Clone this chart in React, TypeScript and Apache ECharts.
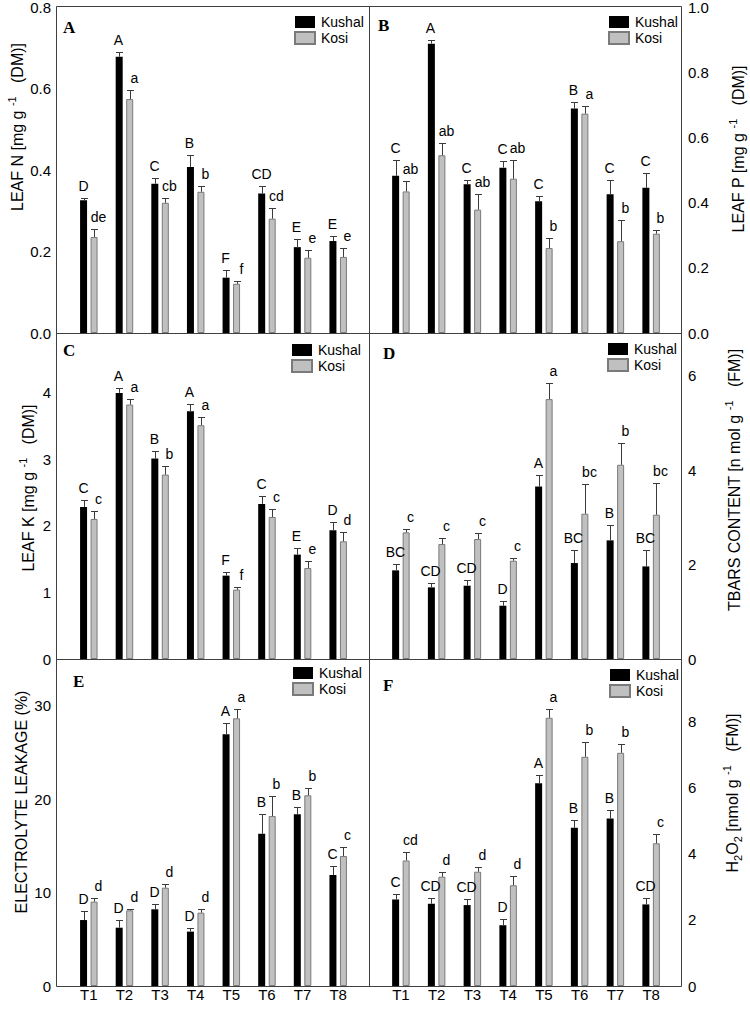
import React, { useEffect, useRef } from "react";
import * as echarts from "echarts";

const categories = ["T1", "T2", "T3", "T4", "T5", "T6", "T7", "T8"];
const cultivars = ["Kushal", "Kosi"];

// A: Leaf N
const leafNKushal = [0.326, 0.679, 0.367, 0.408, 0.136, 0.343, 0.211, 0.226];
const leafNKushalErr = [0.005, 0.012, 0.013, 0.029, 0.02, 0.019, 0.019, 0.013];
const leafNKosi = [0.236, 0.575, 0.32, 0.347, 0.121, 0.281, 0.185, 0.187];
const leafNKosiErr = [0.02, 0.023, 0.013, 0.014, 0.007, 0.027, 0.019, 0.023];
const leafNKushalLetters = ["D", "A", "C", "B", "F", "CD", "E", "E"];
const leafNKosiLetters = ["de", "a", "cb", "b", "f", "cd", "e", "e"];

// B: Leaf P
const leafPKushal = [0.483, 0.889, 0.457, 0.508, 0.405, 0.69, 0.426, 0.446];
const leafPKushalErr = [0.048, 0.011, 0.014, 0.021, 0.015, 0.02, 0.045, 0.046];
const leafPKosi = [0.435, 0.546, 0.379, 0.474, 0.261, 0.674, 0.282, 0.305];
const leafPKosiErr = [0.032, 0.039, 0.049, 0.057, 0.032, 0.023, 0.064, 0.011];
const leafPKushalLetters = ["C", "A", "C", "C", "C", "B", "C", "C"];
const leafPKosiLetters = ["ab", "ab", "ab", "ab", "b", "a", "b", "b"];

// C: Leaf K
const leafKKushal = [2.286, 4.0, 3.013, 3.724, 1.253, 2.331, 1.569, 1.935];
const leafKKushalErr = [0.1, 0.075, 0.12, 0.111, 0.055, 0.115, 0.1, 0.12];
const leafKKosi = [2.105, 3.825, 2.772, 3.514, 1.043, 2.135, 1.368, 1.769];
const leafKKosiErr = [0.116, 0.085, 0.125, 0.125, 0.04, 0.121, 0.111, 0.136];
const leafKKushalLetters = ["C", "A", "B", "A", "F", "C", "E", "D"];
const leafKKosiLetters = ["c", "a", "b", "a", "f", "c", "e", "d"];

// D: TBARS
const tbarsKushal = [1.876, 1.516, 1.551, 1.128, 3.653, 2.031, 2.511, 1.96];
const tbarsKushalErr = [0.134, 0.092, 0.127, 0.106, 0.247, 0.268, 0.317, 0.339];
const tbarsKosi = [2.68, 2.433, 2.539, 2.08, 5.501, 3.075, 4.111, 3.054];
const tbarsKosiErr = [0.07, 0.127, 0.127, 0.057, 0.338, 0.627, 0.459, 0.67];
const tbarsKushalLetters = ["BC", "CD", "CD", "D", "A", "BC", "B", "BC"];
const tbarsKosiLetters = ["c", "c", "c", "c", "a", "bc", "b", "bc"];

// E: Electrolyte leakage
const elKushal = [7.06, 6.24, 8.21, 5.82, 26.94, 16.3, 18.37, 11.88];
const elKushalErr = [0.97, 0.79, 0.53, 0.42, 1.17, 2.07, 0.82, 0.96];
const elKosi = [9.03, 8.1, 10.52, 7.85, 28.65, 18.19, 20.41, 13.91];
const elKosiErr = [0.35, 0.18, 0.36, 0.36, 0.96, 2.15, 0.82, 0.97];
const elKushalLetters = ["D", "D", "D", "D", "A", "B", "B", "C"];
const elKosiLetters = ["d", "d", "d", "d", "a", "b", "b", "c"];

// F: H2O2
const h2o2Kushal = [2.62, 2.49, 2.45, 1.84, 6.14, 4.79, 5.07, 2.47];
const h2o2KushalErr = [0.18, 0.18, 0.19, 0.2, 0.25, 0.23, 0.25, 0.2];
const h2o2Kosi = [3.8, 3.31, 3.46, 3.05, 8.12, 6.94, 7.06, 4.32];
const h2o2KosiErr = [0.27, 0.14, 0.15, 0.28, 0.28, 0.45, 0.26, 0.27];
const h2o2KushalLetters = ["C", "CD", "CD", "D", "A", "B", "B", "CD"];
const h2o2KosiLetters = ["cd", "d", "d", "d", "a", "b", "b", "c"];

const panelLetters = ["A", "B", "C", "D", "E", "F"];
const axisMax = [0.8, 1.0, 4.9, 6.9, 35, 9.9];
const axisInterval = [0.2, 0.2, 1, 2, 10, 2];
const axisDecimals = [1, 1, 0, 0, 0, 0];

const FONT = "'Liberation Sans', Arial, Helvetica, sans-serif";
const SERIF = "'Liberation Serif', 'Times New Roman', serif";

const panels = [
  { k: leafNKushal, ke: leafNKushalErr, o: leafNKosi, oe: leafNKosiErr, kl: leafNKushalLetters, ol: leafNKosiLetters },
  { k: leafPKushal, ke: leafPKushalErr, o: leafPKosi, oe: leafPKosiErr, kl: leafPKushalLetters, ol: leafPKosiLetters },
  { k: leafKKushal, ke: leafKKushalErr, o: leafKKosi, oe: leafKKosiErr, kl: leafKKushalLetters, ol: leafKKosiLetters },
  { k: tbarsKushal, ke: tbarsKushalErr, o: tbarsKosi, oe: tbarsKosiErr, kl: tbarsKushalLetters, ol: tbarsKosiLetters },
  { k: elKushal, ke: elKushalErr, o: elKosi, oe: elKosiErr, kl: elKushalLetters, ol: elKosiLetters },
  { k: h2o2Kushal, ke: h2o2KushalErr, o: h2o2Kosi, oe: h2o2KosiErr, kl: h2o2KushalLetters, ol: h2o2KosiLetters },
];

// layout
const colGrid = [
  { left: 71, width: 285 },
  { left: 383, width: 286 },
];
const rowGrid = [
  { top: 7, height: 326 },
  { top: 333, height: 326 },
  { top: 659, height: 327 },
];
const legendPos = [
  [294, 15],
  [608, 15],
  [291, 343],
  [607, 342],
  [292, 666],
  [609, 668],
];
const letterPos = [
  [63, 28],
  [378, 26],
  [63, 351],
  [383, 354],
  [73, 682],
  [383, 686],
];

const titleRich = {
  n: { fontSize: 16, fontFamily: FONT, color: "#000", lineHeight: 22 },
  s: { fontSize: 11, fontFamily: FONT, color: "#000", verticalAlign: "top", lineHeight: 12 },
  b: { fontSize: 11, fontFamily: FONT, color: "#000", verticalAlign: "bottom", lineHeight: 12 },
};
const titles = [
  { text: "{n|LEAF N [mg g }{s|-1}{n|   (DM)]}", x: 17, y: 127 },
  { text: "{n|LEAF P [mg g }{s|-1}{n|   (DM)]}", x: 738, y: 149 },
  { text: "{n|LEAF K [mg g }{s|-1}{n|   (DM)]}", x: 28, y: 488 },
  { text: "{n|TBARS CONTENT [n mol g }{s|-1}{n|   (FM)]}", x: 734, y: 480 },
  { text: "{n|ELECTROLYTE LEAKAGE (%)}", x: 21, y: 802 },
  { text: "{n|H}{b|2}{n|O}{b|2}{n| [nmol g }{s|-1}{n|   (FM)]}", x: 732, y: 793 },
];

function errorSeries(
  gi: number,
  vals: number[],
  errs: number[],
  letters: string[],
  offset: number,
  letterShift: number,
  name: string
) {
  return {
    type: "custom",
    name,
    xAxisIndex: gi,
    yAxisIndex: gi,
    z: 5,
    encode: { x: 0, y: 1 },
    data: vals.map((v, i) => [i, v, errs[i]]),
    renderItem: (params: any, api: any) => {
      const idx = api.value(0);
      const v = api.value(1);
      const e = api.value(2);
      const base = api.coord([idx, v]);
      const top = api.coord([idx, v + e]);
      const x = Math.round(base[0] + offset) + 0.5;
      const yt = Math.round(top[1]) + 0.5;
      return {
        type: "group",
        children: [
          { type: "line", shape: { x1: x, y1: base[1], x2: x, y2: yt }, style: { stroke: "#3a3a3a", lineWidth: 1 } },
          { type: "line", shape: { x1: x - 3.5, y1: yt, x2: x + 3.5, y2: yt }, style: { stroke: "#3a3a3a", lineWidth: 1 } },
          {
            type: "text",
            style: {
              text: letters[params.dataIndex],
              x: x + letterShift,
              y: yt - 6,
              align: "center",
              verticalAlign: "bottom",
              fill: "#000",
              fontSize: 14,
              fontFamily: FONT,
            },
          },
        ],
      };
    },
  };
}

function buildOption() {
  const grid: any[] = [];
  const xAxis: any[] = [];
  const yAxis: any[] = [];
  const series: any[] = [];
  const legend: any[] = [];
  const graphic: any[] = [];

  panels.forEach((p, gi) => {
    const col = gi % 2;
    const row = Math.floor(gi / 2);
    grid.push({ left: colGrid[col].left, width: colGrid[col].width, top: rowGrid[row].top, height: rowGrid[row].height });
    xAxis.push({
      type: "category",
      gridIndex: gi,
      data: categories,
      axisLine: { show: false },
      axisTick: { show: false },
      axisLabel: { show: row === 2, fontSize: 15, color: "#000", fontFamily: FONT, margin: 1 },
    });
    const dec = axisDecimals[gi];
    yAxis.push({
      type: "value",
      gridIndex: gi,
      position: col === 0 ? "left" : "right",
      min: 0,
      max: axisMax[gi],
      interval: axisInterval[gi],
      splitLine: { show: false },
      axisLine: { show: false },
      axisTick: { show: false },
      axisLabel: {
        fontSize: 15,
        color: "#000",
        fontFamily: FONT,
        margin: col === 0 ? 20 : 19,
        showMaxLabel: gi < 2,
        formatter: (v: number) => v.toFixed(dec),
      },
    });
    series.push({
      type: "bar",
      name: cultivars[0],
      xAxisIndex: gi,
      yAxisIndex: gi,
      data: p.k,
      barWidth: 7,
      barGap: "50%",
      itemStyle: { color: "#000000" },
    });
    series.push({
      type: "bar",
      name: cultivars[1],
      xAxisIndex: gi,
      yAxisIndex: gi,
      data: p.o,
      barWidth: 7,
      barGap: "50%",
      itemStyle: { color: "#c0c0c0", borderColor: "#7a7a7a", borderWidth: 1 },
    });
    series.push(errorSeries(gi, p.k, p.ke, p.kl, -5.25, -1, "err-k"));
    series.push(errorSeries(gi, p.o, p.oe, p.ol, 5.25, 4, "err-o"));
    legend.push({
      data: cultivars,
      orient: "vertical",
      left: legendPos[gi][0],
      top: legendPos[gi][1],
      padding: 0,
      itemWidth: 20,
      itemHeight: 12,
      itemGap: 2,
      icon: "rect",
      selectedMode: false,
      textStyle: { fontSize: 14, color: "#000", fontFamily: FONT, padding: [0, 0, 0, 1] },
    });
    graphic.push({
      type: "text",
      left: letterPos[gi][0],
      top: letterPos[gi][1] - 9,
      style: { text: panelLetters[gi], fontSize: 17, fontWeight: "bold", fontFamily: SERIF, fill: "#000" },
    });
    const t = titles[gi];
    graphic.push({
      type: "text",
      x: t.x,
      y: t.y,
      rotation: Math.PI / 2,
      style: { text: t.text, rich: titleRich, align: "center", verticalAlign: "middle", fill: "#000" },
    });
  });

  // frame lines
  const L = 56.5, M = 369.5, R = 681.5;
  const rowsY = [6.5, 333.5, 659.5, 986.5];
  const stroke = { stroke: "#404040", lineWidth: 1 };
  rowsY.forEach((y) => graphic.push({ type: "line", shape: { x1: L, y1: y, x2: R, y2: y }, style: stroke, z: 10 }));
  [L, M, R].forEach((x) => graphic.push({ type: "line", shape: { x1: x, y1: rowsY[0], x2: x, y2: rowsY[3] }, style: stroke, z: 10 }));

  return {
    animation: false,
    textStyle: { fontFamily: FONT },
    grid,
    xAxis,
    yAxis,
    series,
    legend,
    graphic,
  };
}

export default function App() {
  const ref = useRef<HTMLDivElement>(null);
  useEffect(() => {
    if (!ref.current) return;
    const chart = echarts.init(ref.current, undefined, { renderer: "svg" });
    chart.setOption(buildOption() as any);
    return () => chart.dispose();
  }, []);
  return (
    <div
      ref={ref}
      style={{ position: "absolute", left: 0, top: 0, width: 750, height: 1013, background: "#fff" }}
    />
  );
}
